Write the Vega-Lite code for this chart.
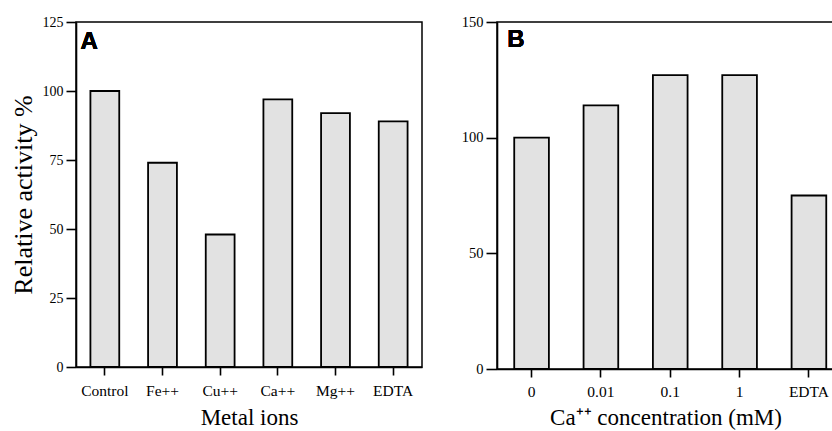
{
  "$schema": "https://vega.github.io/schema/vega-lite/v6.json",
  "background": "white",
  "padding": {"left": 9, "top": 13, "right": 0, "bottom": 0},
  "autosize": {"type": "pad"},
  "spacing": 37,
  "config": {
    "view": {"stroke": "black", "strokeWidth": 1.5},
    "axis": {
      "domainColor": "black", "domainWidth": 1.6,
      "tickColor": "black", "tickWidth": 1.6,
      "labelColor": "black", "titleColor": "black",
      "labelFont": "Liberation Serif", "titleFont": "Liberation Serif",
      "titleFontWeight": "normal", "grid": false, "labelFlush": false, "labelOverlap": false
    }
  },
  "hconcat": [
    {
      "width": 346,
      "height": 345,
      "data": {"values": [
        {"ion": "Control", "activity": 100},
        {"ion": "Fe++", "activity": 74},
        {"ion": "Cu++", "activity": 48},
        {"ion": "Ca++", "activity": 97},
        {"ion": "Mg++", "activity": 92},
        {"ion": "EDTA", "activity": 89}
      ]},
      "layer": [
        {
          "mark": {"type": "bar", "fill": "#e2e2e2", "stroke": "black", "strokeWidth": 1.8},
          "encoding": {
            "x": {"field": "ion", "type": "nominal", "sort": null,
              "scale": {"paddingInner": 0.5, "paddingOuter": 0.25},
              "axis": {"labelAngle": 0, "title": "Metal ions", "labelFontSize": 15.5, "titleFontSize": 23, "tickSize": 8, "labelPadding": 8, "titlePadding": 8}},
            "y": {"field": "activity", "type": "quantitative",
              "scale": {"domain": [0, 125], "nice": false},
              "axis": {"values": [0, 25, 50, 75, 100, 125], "title": "Relative activity %", "labelFontSize": 14, "titleFontSize": 26, "tickSize": 10, "labelPadding": 3, "titlePadding": 6}}
          }
        },
        {
          "mark": {"type": "text", "text": "A", "font": "Liberation Sans", "fontWeight": "bold", "fontSize": 24, "align": "left", "baseline": "alphabetic", "dx": -10},
          "encoding": {
            "x": {"datum": "Control", "bandPosition": 0},
            "y": {"datum": 115.2}
          }
        }
      ]
    },
    {
      "width": 337,
      "height": 347,
      "data": {"values": [
        {"conc": "0", "activity": 100},
        {"conc": "0.01", "activity": 114},
        {"conc": "0.1", "activity": 127},
        {"conc": "1", "activity": 127},
        {"conc": "EDTA", "activity": 75}
      ]},
      "layer": [
        {
          "mark": {"type": "bar", "fill": "#e2e2e2", "stroke": "black", "strokeWidth": 1.8},
          "encoding": {
            "x": {"field": "conc", "type": "nominal", "sort": null,
              "scale": {"paddingInner": 0.5, "paddingOuter": 0.18, "align": 0.69},
              "axis": {"labelAngle": 0, "title": "Ca⁺⁺ concentration (mM)", "labelFontSize": 15.5, "titleFontSize": 23, "tickSize": 8, "labelPadding": 7, "titlePadding": 7}},
            "y": {"field": "activity", "type": "quantitative",
              "scale": {"domain": [0, 150], "nice": false},
              "axis": {"values": [0, 50, 100, 150], "title": null, "labelFontSize": 14.5, "tickSize": 11, "labelPadding": 3}}
          }
        },
        {
          "mark": {"type": "text", "text": "B", "font": "Liberation Sans", "fontWeight": "bold", "fontSize": 24, "align": "left", "baseline": "alphabetic", "dx": -7},
          "encoding": {
            "x": {"datum": "0", "bandPosition": 0},
            "y": {"datum": 139.2}
          }
        }
      ]
    }
  ]
}
